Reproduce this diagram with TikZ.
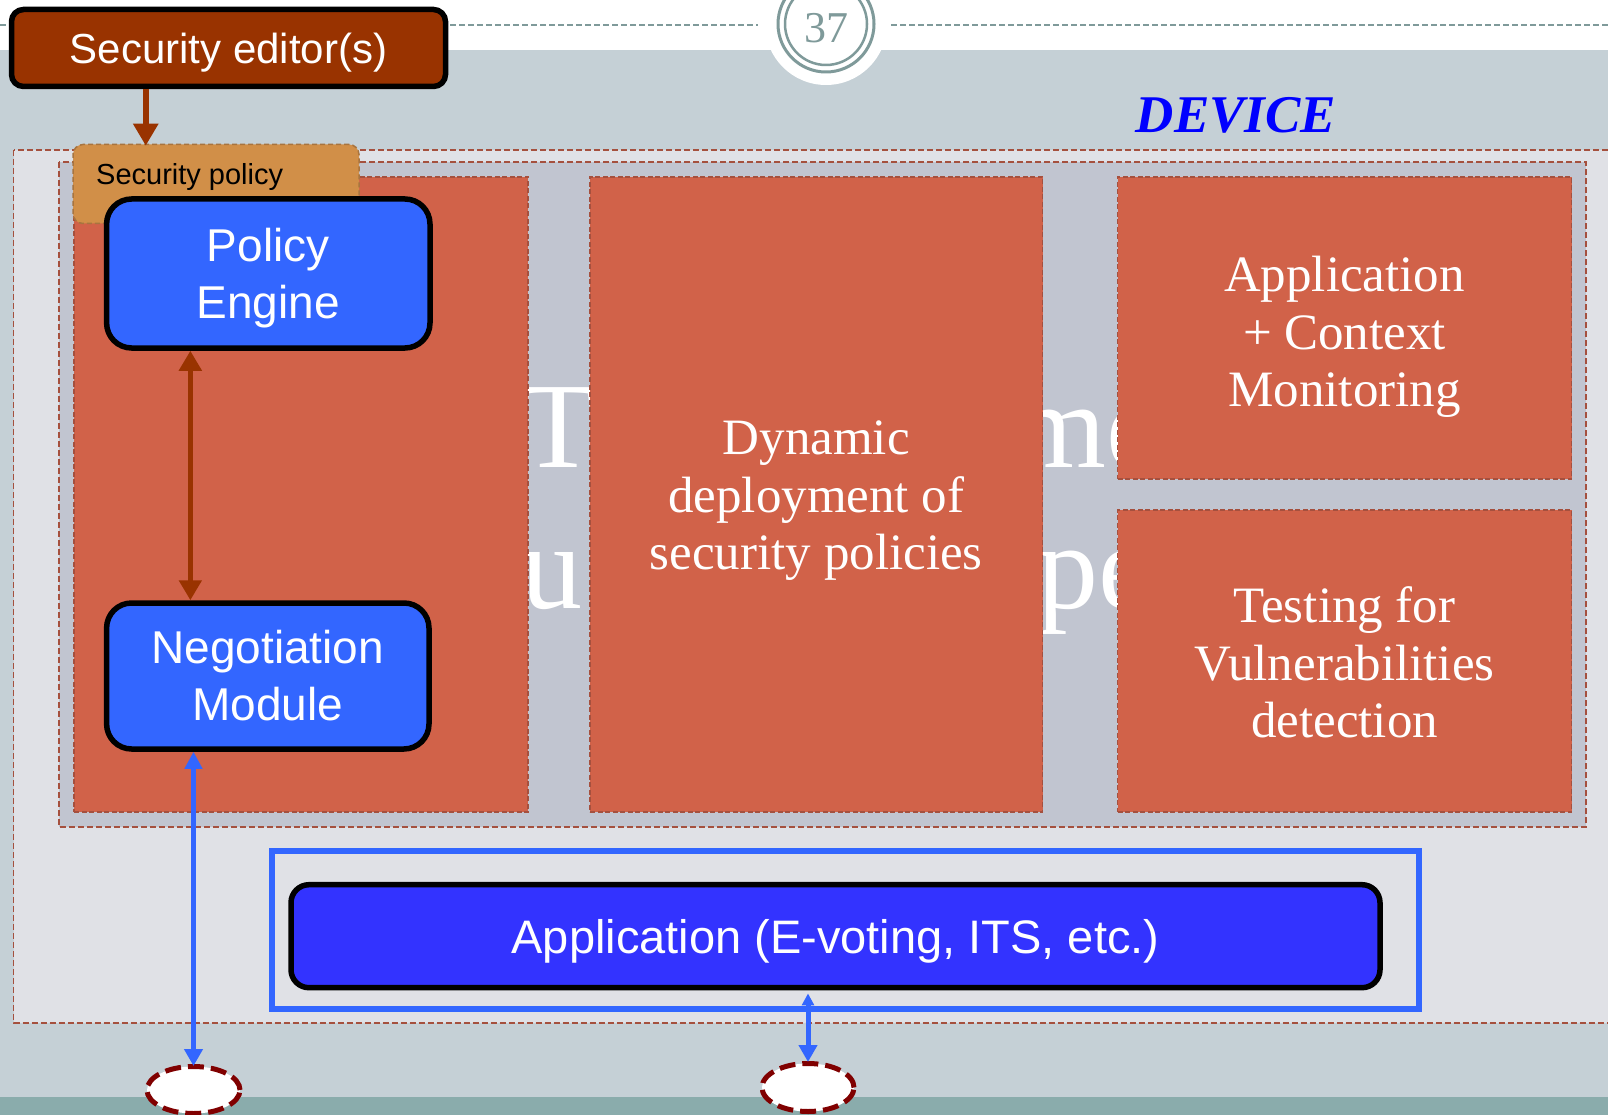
\documentclass[tikz,border=0pt]{standalone}
\usepackage{fontspec}
\setmainfont{Liberation Serif}
\newfontfamily\arialf{Liberation Sans}
\usetikzlibrary{arrows.meta,shapes.geometric}
\definecolor{bggray}{HTML}{C5D0D6}
\definecolor{bandteal}{HTML}{8AACAC}
\definecolor{numcol}{HTML}{7F9A9A}
\definecolor{devfill}{HTML}{E0E1E6}
\definecolor{innerfill}{HTML}{C1C5D0}
\definecolor{boxorange}{HTML}{D16249}
\definecolor{dashbrown}{HTML}{A5503E}
\definecolor{secbrown}{HTML}{993300}
\definecolor{polfill}{HTML}{D18F48}
\definecolor{poldash}{HTML}{A8743F}
\definecolor{peblue}{HTML}{3366FF}
\definecolor{appblue}{HTML}{3333FF}
\definecolor{devblue}{HTML}{0000FF}
\definecolor{ellred}{HTML}{800000}
\tikzset{
  dashframe/.style={draw=dashbrown, line width=1.8pt, dash pattern=on 6pt off 3pt},
  orangebox/.style={draw=dashbrown, line width=1.3pt, dash pattern=on 5pt off 2.5pt, fill=boxorange, inner sep=0pt},
  boxtext/.style={text=white, font=\fontsize{51}{57.5}\selectfont, align=center, inner sep=0pt},
  bgletter/.style={text=white, font=\fontsize{122}{122}\selectfont, inner sep=0pt},
  bluebox/.style={draw=black, line width=5.5pt, fill=peblue, rounded corners=25pt, text=white,
    font=\arialf\fontsize{46}{57}\selectfont, align=center, inner sep=0pt},
  secbox/.style={draw=black, line width=5.5pt, fill=secbrown, rounded corners=12pt, text=white,
    font=\arialf\fontsize{42}{50}\selectfont, text height=31pt, text depth=0pt, inner sep=0pt},
  polbox/.style={draw=poldash, line width=1.5pt, dash pattern=on 5pt off 3pt, fill=polfill, rounded corners=10pt, inner sep=0pt},
  appbox/.style={draw=black, line width=5.5pt, fill=appblue, rounded corners=18pt, text=white,
    font=\arialf\fontsize{47}{55}\selectfont, text height=33.6pt, text depth=0pt, inner sep=0pt},
  appframe/.style={draw=peblue, line width=6pt, inner sep=0pt},
  portell/.style={ellipse, draw=ellred, line width=5pt, dash pattern=on 16pt off 7pt, fill=white, inner sep=0pt},
  brownarrow/.style={draw=secbrown, line width=5.5pt},
  bluearrow/.style={draw=peblue, line width=5pt},
}
\begin{document}
\begin{tikzpicture}[x=1pt,y=-1pt]
\clip (0,0) rectangle (1608,1115);
% slide background
\fill[white] (0,0) rectangle (1608,1115);
\fill[bggray] (0,50) rectangle (1608,1097);
\fill[bandteal] (0,1097) rectangle (1608,1115);
\draw[numcol, line width=1.5pt, dash pattern=on 6pt off 3pt] (0,25) -- (758,25);
\draw[numcol, line width=1.5pt, dash pattern=on 6pt off 3pt] (891,25) -- (1608,25);
\fill[white] (826,24) circle[radius=61pt];
\draw[numcol, line width=3pt] (826,24) circle[radius=48pt];
\draw[numcol, line width=2.5pt] (826,24) circle[radius=41pt];
\node[text=numcol, font=\fontsize{44}{44}\selectfont, inner sep=0pt] (pgnum) at (826,28) {37};
% device frame
\draw[dashframe, fill=devfill] (13.5,150) rectangle (1625,1023);
\node[text=devblue, font=\bfseries\itshape\fontsize{53}{53}\selectfont, anchor=base, inner sep=0pt] (devlabel) at (1236,133) {DEVICE};
\draw[dashframe, fill=innerfill] (59,162) rectangle (1586,827);
% background title fragments
\node[bgletter, anchor=base] (bgT) at (559,467) {T};
\node[bgletter, anchor=base west] (bgu) at (521,608) {u};
\node[bgletter, anchor=base west] (bgm) at (1011,467) {me};
\node[bgletter, anchor=base west] (bgpe) at (1037,608) {pe};
% orange blocks
\node[orangebox, minimum width=454pt, minimum height=635pt] (b1) at (301,494.5) {};
\node[orangebox, minimum width=452.5pt, minimum height=635pt] (b2) at (816.25,494.5) {};
\node[orangebox, minimum width=454pt, minimum height=302pt] (b3) at (1344.5,328) {};
\node[orangebox, minimum width=454pt, minimum height=302pt] (b4) at (1344.5,661) {};
\node[boxtext] (t2) at (816.25,501) {Dynamic\\deployment of\\security policies};
\node[boxtext] (t3) at (1344.5,337) {Application\\+ Context\\Monitoring};
\node[boxtext] (t4) at (1344.5,662.5) {Testing for\\Vulnerabilities\\detection};
% security policy
\node[polbox, minimum width=286pt, minimum height=79pt] (pol) at (216,184) {};
\node[anchor=base west, inner sep=0pt, font=\arialf\fontsize{29}{29}\selectfont] (poltext) at (96,185) {Security policy};
% blue modules
\node[bluebox, minimum width=323.4pt, minimum height=149pt] (pe) at (268.3,273.5) {Policy\\En\smash{g}ine};
\node[bluebox, minimum width=322.4pt, minimum height=146pt] (neg) at (267.8,676) {Negotiation\\Module};
% application
\node[appframe, minimum width=1146.8pt, minimum height=158.3pt] (appfr) at (845.1,929.85) {};
\node[appbox, minimum width=1089pt, minimum height=103pt] (app) at (835.5,936.2) {Application (E-voting, ITS, etc.)};
% ports
\node[portell, minimum width=93pt, minimum height=47pt] (e1) at (193.5,1090) {};
\node[portell, minimum width=92pt, minimum height=48pt] (e2) at (808,1087.5) {};
% security editor
\node[secbox, minimum width=434pt, minimum height=77pt] (sec) at (228.5,48) {Security editor(s)};
% connectors
\draw[brownarrow, -{Triangle[length=22pt,width=24pt]}] ([xshift=137pt]sec.south west) -- ([xshift=73.5pt,yshift=-2pt]pol.north west);
\draw[brownarrow, {Triangle[length=20pt,width=22pt]}-{Triangle[length=20pt,width=22pt]}] ([xshift=86.5pt]pe.south west) -- ([xshift=86.5pt]neg.north west);
\draw[bluearrow, {Triangle[length=17pt,width=17pt]}-{Triangle[length=17pt,width=18pt]}] (e1.north |- neg.south) -- ([yshift=-2pt]e1.north);
\draw[bluearrow, {Triangle[length=12pt,width=12pt]}-{Triangle[length=17pt,width=18pt]}] ([yshift=-3pt]e2.north |- app.south) -- ([yshift=-1pt]e2.north);
\end{tikzpicture}
\end{document}
